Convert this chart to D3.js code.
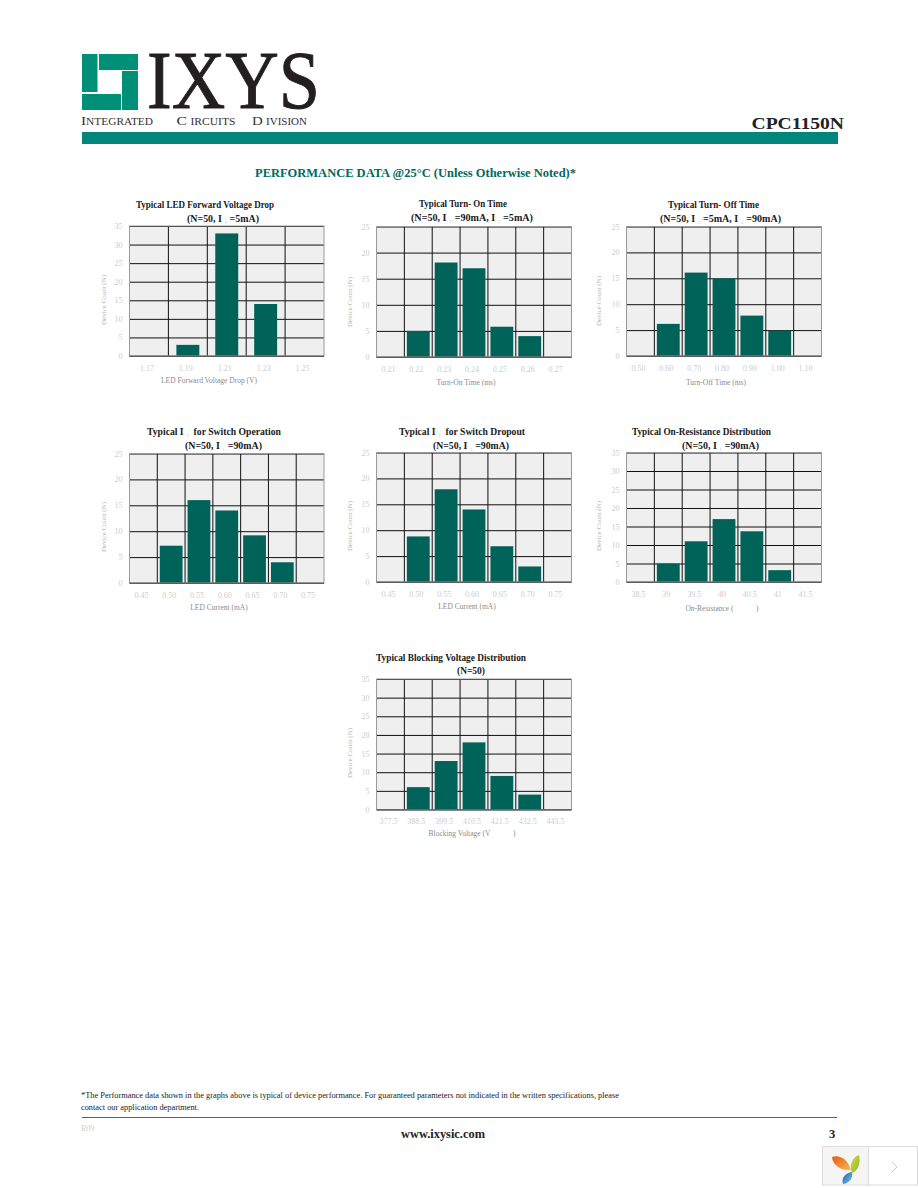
<!DOCTYPE html>
<html><head><meta charset="utf-8">
<script src="https://cdnjs.cloudflare.com/ajax/libs/d3/7.8.5/d3.min.js"></script>
<style>html,body{margin:0;padding:0;background:#fff}svg{display:block}text{font-family:"Liberation Serif",serif}</style>
</head><body><svg id="page" width="918" height="1188" xmlns="http://www.w3.org/2000/svg"></svg>
<script>
// ---- data ----
const voltageCats = ["1.17","1.19","1.21","1.23","1.25"];
const voltageVals = [0,3,33,14,0];
const turnOnCats = ["0.21","0.22","0.23","0.24","0.25","0.26","0.27"];
const turnOnVals = [0,5,18.1,17,5.8,4,0];
const turnOffCats = ["0.50","0.60","0.70","0.80","0.90","1.00","1.10"];
const turnOffVals = [0,6.2,16.1,15,7.8,4.9,0];
const ledCurrentCats = ["0.45","0.50","0.55","0.60","0.65","0.70","0.75"];
const operateVals = [0,7.2,16,14,9.2,4,0];
const dropoutVals = [0,8.8,17.9,14,6.9,3,0];
const resistCats = ["38.5","39","39.5","40","40.5","41","41.5"];
const resistVals = [0,5,11,17,13.7,3.2,0];
const blockCats = ["377.5","388.5","399.5","410.5","421.5","432.5","443.5"];
const blockVals = [0,6,13,18,9,4,0];
const ticks35 = [0,5,10,15,20,25,30,35];
const ticks25 = [0,5,10,15,20,25];

// "~X~" marks a subscript
const titles = [
 ["Typical LED Forward Voltage Drop","(N=50, I~F~=5mA)"],
 ["Typical Turn- On Time","(N=50, I~L~=90mA, I~F~=5mA)"],
 ["Typical Turn- Off Time","(N=50, I~F~=5mA, I~L~=90mA)"],
 ["Typical I~F~ for Switch Operation","(N=50, I~L~=90mA)"],
 ["Typical I~F~ for Switch Dropout","(N=50, I~L~=90mA)"],
 ["Typical On-Resistance Distribution","(N=50, I~L~=90mA)"],
 ["Typical Blocking Voltage Distribution","(N=50)"]
];
const xTitles = ["LED Forward Voltage Drop (V)","Turn-On Time  (ms)","Turn-Off Time  (ms)","LED Current (mA)","LED Current (mA)",
 "On-Resistance (\u00a0\u00a0\u00a0\u00a0\u00a0\u00a0\u00a0\u00a0\u00a0\u00a0\u00a0\u00a0)","Blocking Voltage (V\u00a0\u00a0\u00a0\u00a0\u00a0\u00a0\u00a0\u00a0\u00a0\u00a0\u00a0\u00a0)"];
const seriesCats = [voltageCats,turnOnCats,turnOffCats,ledCurrentCats,ledCurrentCats,resistCats,blockCats];
const seriesVals = [voltageVals,turnOnVals,turnOffVals,operateVals,dropoutVals,resistVals,blockVals];
const seriesTicks = [ticks35,ticks25,ticks25,ticks25,ticks25,ticks35,ticks35];

// ---- layout ----
const boxes = [
 {l:129.5,r:324,t:226,b:356, yt:104,ytc:300, xc:209,xw:100,xy:382.5,pad:0.41},
 {l:376.5,r:571.5,t:226.5,b:357, yt:350,ytc:302, xc:466,xw:61,xy:384.5,pad:0.18},
 {l:626.5,r:821.5,t:226.5,b:356, yt:599,ytc:301, xc:716,xw:61,xy:384.5,pad:0.18},
 {l:129.5,r:324,t:453.5,b:583, yt:104,ytc:527, xc:219,xw:58,xy:609.5,pad:0.18},
 {l:376.5,r:571.5,t:452.5,b:582, yt:350,ytc:526, xc:467,xw:58,xy:608.5,pad:0.18},
 {l:626.5,r:821.5,t:452.5,b:582, yt:599,ytc:526, xc:722,xw:74,xy:610.5,pad:0.18},
 {l:376.5,r:571.5,t:679,b:809.5, yt:350,ytc:753, xc:472,xw:90,xy:835.5,pad:0.18}
];
const titleBoxes = [
 [[136,138,207.5],[187,72,221.5]],
 [[419,88,207],[411,122,221]],
 [[668,91,207.5],[660,121,221.5]],
 [[147,134,434.5],[185,77,448.5]],
 [[399,126,434.5],[433,76,448.5]],
 [[632,139,434.5],[682,77,448.5]],
 [[376,150,660.5],[457,28,674]]
];
const TEAL="#00635a", BAND="#00867a", LOGO="#009078";
const svg = d3.select("#page");

function addRich(sel,str){
  str.split("~").forEach((part,i)=>{
    if(!part) return;
    if(i%2) sel.append("tspan").attr("font-size",5).attr("dy",2).attr("dx",3).attr("fill","#cfcfcf").attr("font-weight","normal").text(part);
    else {
      const ts=sel.append("tspan").text(part);
      if(i>0) ts.attr("dy",-2).attr("dx",2);
    }
  });
}

seriesVals.forEach((vals,i)=>{
  const b=boxes[i], cats=seriesCats[i], tk=seriesTicks[i];
  const g=svg.append("g");
  const x=d3.scaleBand().domain(cats).range([b.l,b.r]);
  const xBar=d3.scaleBand().domain(cats).range([b.l,b.r]).paddingInner(b.pad).paddingOuter(b.pad/2);
  const y=d3.scaleLinear().domain([0,d3.max(tk)]).range([b.b,b.t]);
  g.append("rect").attr("x",b.l).attr("y",b.t).attr("width",b.r-b.l).attr("height",b.b-b.t).attr("fill","#efefef");
  // horizontal grid and y tick labels
  const ya=g.append("g").attr("transform",`translate(${b.l},0)`)
    .call(d3.axisLeft(y).tickValues(tk).tickSize(-(b.r-b.l)).tickPadding(7));
  ya.select(".domain").remove();
  ya.selectAll("line").attr("stroke","#111").attr("stroke-width",1);
  ya.selectAll("text").attr("fill","#cccccc").attr("font-size",8).attr("font-family","Liberation Serif");
  // vertical grid
  g.selectAll(".v").data(cats.slice(1)).join("line")
    .attr("x1",d=>x(d)).attr("x2",d=>x(d)).attr("y1",b.t).attr("y2",b.b).attr("stroke","#111");
  // bars
  g.selectAll(".bar").data(vals.map((v,k)=>({c:cats[k],v})).filter(d=>d.v>0)).join("rect")
    .attr("x",d=>xBar(d.c)).attr("width",xBar.bandwidth())
    .attr("y",d=>y(d.v)).attr("height",d=>y(0)-y(d.v)).attr("fill",TEAL);
  // frame
  g.append("rect").attr("x",b.l).attr("y",b.t).attr("width",b.r-b.l).attr("height",b.b-b.t)
    .attr("fill","none").attr("stroke","#9a9a9a").attr("stroke-width",1);
  g.append("line").attr("x1",b.l).attr("x2",b.r).attr("y1",b.b).attr("y2",b.b).attr("stroke","#666");
  // x tick labels
  const xa=g.append("g").attr("transform",`translate(-2,${b.b})`).call(d3.axisBottom(x).tickSize(0).tickPadding(9));
  xa.select(".domain").remove();
  xa.selectAll("text").attr("fill","#cccccc").attr("font-size",8).attr("font-family","Liberation Serif");
  // axis titles
  g.append("text").attr("x",b.xc).attr("y",b.xy).attr("text-anchor","middle").attr("font-size",7.5)
    .attr("fill","#8a8a8a").text(xTitles[i]);
  g.append("text").attr("transform",`translate(${b.yt+2},${b.ytc}) rotate(-90)`).attr("text-anchor","middle")
    .attr("font-size",7).attr("fill","#b5b5b5").text("Device Count (N)");
  // chart titles
  titles[i].forEach((t,k)=>{
    const [tx,tw,ty]=titleBoxes[i][k];
    const el=g.append("text").attr("x",tx).attr("y",ty).attr("font-size",10).attr("font-weight","bold").attr("fill","#1a1a1a")
      .attr("textLength",tw).attr("lengthAdjust","spacingAndGlyphs");
    addRich(el,t);
  });
});

// ---- header ----
const logo=svg.append("g").attr("fill",LOGO);
[[82,54,15.5,38],[99,54,39,16],[122,71,16,39],[82,94,39,16]].forEach(r=>logo.append("rect").attr("x",r[0]).attr("y",r[1]).attr("width",r[2]).attr("height",r[3]));
svg.append("text").attr("x",147).attr("y",108).attr("font-size",82).attr("fill","#231f20")
  .attr("stroke","#231f20").attr("stroke-width",0.9)
  .attr("textLength",173).attr("lengthAdjust","spacingAndGlyphs").text("IXYS");
[["I","NTEGRATED",81,72],["C","IRCUITS",176.5,59],["D","IVISION",252,55]].forEach(d=>{
  const t=svg.append("text").attr("x",d[2]).attr("y",124.5).attr("fill","#333")
    .attr("textLength",d[3]).attr("lengthAdjust","spacingAndGlyphs");
  t.append("tspan").attr("font-size",13.5).text(d[0]);
  t.append("tspan").attr("font-size",10).attr("dx",d[0]==="I"?0:3).text(d[1]);
});
svg.append("rect").attr("x",82).attr("y",132).attr("width",756).attr("height",12).attr("fill",BAND);
svg.append("text").attr("x",751.5).attr("y",129).attr("font-size",16.5).attr("font-weight","bold").attr("fill","#222")
  .attr("textLength",92.5).attr("lengthAdjust","spacingAndGlyphs").text("CPC1150N");
svg.append("text").attr("x",255).attr("y",176.5).attr("font-size",12).attr("font-weight","bold").attr("fill","#00695f")
  .attr("textLength",321).attr("lengthAdjust","spacingAndGlyphs").text("PERFORMANCE DATA @25°C (Unless Otherwise Noted)*");

// ---- footer ----
svg.append("text").attr("x",81).attr("y",1098).attr("font-size",8.5).attr("fill","#222").attr("textLength",538).attr("lengthAdjust","spacingAndGlyphs")
  .text("*The Performance data shown in the graphs above is typical of device performance.  For guaranteed parameters not indicated in the written specifications, please");
svg.append("text").attr("x",81).attr("y",1110).attr("font-size",8.5).attr("fill","#222").attr("textLength",118).attr("lengthAdjust","spacingAndGlyphs")
  .text("contact our application department.");
svg.append("line").attr("x1",82).attr("x2",837).attr("y1",1117.5).attr("y2",1117.5).attr("stroke","#1a7f70").attr("stroke-width",1);
svg.append("text").attr("x",81).attr("y",1131).attr("font-size",8).attr("fill","#cfcfcf").text("R09");
svg.append("text").attr("x",401).attr("y",1138).attr("font-size",12.5).attr("font-weight","bold").attr("fill","#222")
  .attr("textLength",84).attr("lengthAdjust","spacingAndGlyphs").text("www.ixysic.com");
svg.append("text").attr("x",829).attr("y",1138).attr("font-size",12.5).attr("font-weight","bold").attr("fill","#222").text("3");

// ---- corner widget ----
const w=svg.append("g");
w.append("rect").attr("x",822.5).attr("y",1146.5).attr("width",46).attr("height",38.5).attr("fill","#f5f5f5").attr("stroke","#dcdcdc");
w.append("rect").attr("x",868.5).attr("y",1146.5).attr("width",49).attr("height",38.5).attr("fill","#fff").attr("stroke","#dcdcdc");
const defs=svg.append("defs");
[["gO","#e8541c","#f7c04a"],["gG","#d7d93e","#8dba2f"],["gB","#1c62ad","#7cc0e8"]].forEach(g=>{
  const lg=defs.append("linearGradient").attr("id",g[0]).attr("x1",0).attr("y1",0).attr("x2",1).attr("y2",1);
  lg.append("stop").attr("offset",0).attr("stop-color",g[1]);
  lg.append("stop").attr("offset",1).attr("stop-color",g[2]);
});
w.append("path").attr("d","M832 1157 C839 1154 848 1159 851 1170 C843 1171 833 1167 832 1157Z").attr("fill","url(#gO)");
w.append("path").attr("d","M859 1155 C861 1163 858 1171 852 1173 C849 1166 852 1157 859 1155Z").attr("fill","url(#gG)");
w.append("path").attr("d","M843 1184 C841 1178 845 1173 852 1172 C853 1178 850 1183 843 1184Z").attr("fill","url(#gB)");
w.append("path").attr("d","M892 1162 L897 1167 L892 1172").attr("fill","none").attr("stroke","#c9c9c9");
</script></body></html>
